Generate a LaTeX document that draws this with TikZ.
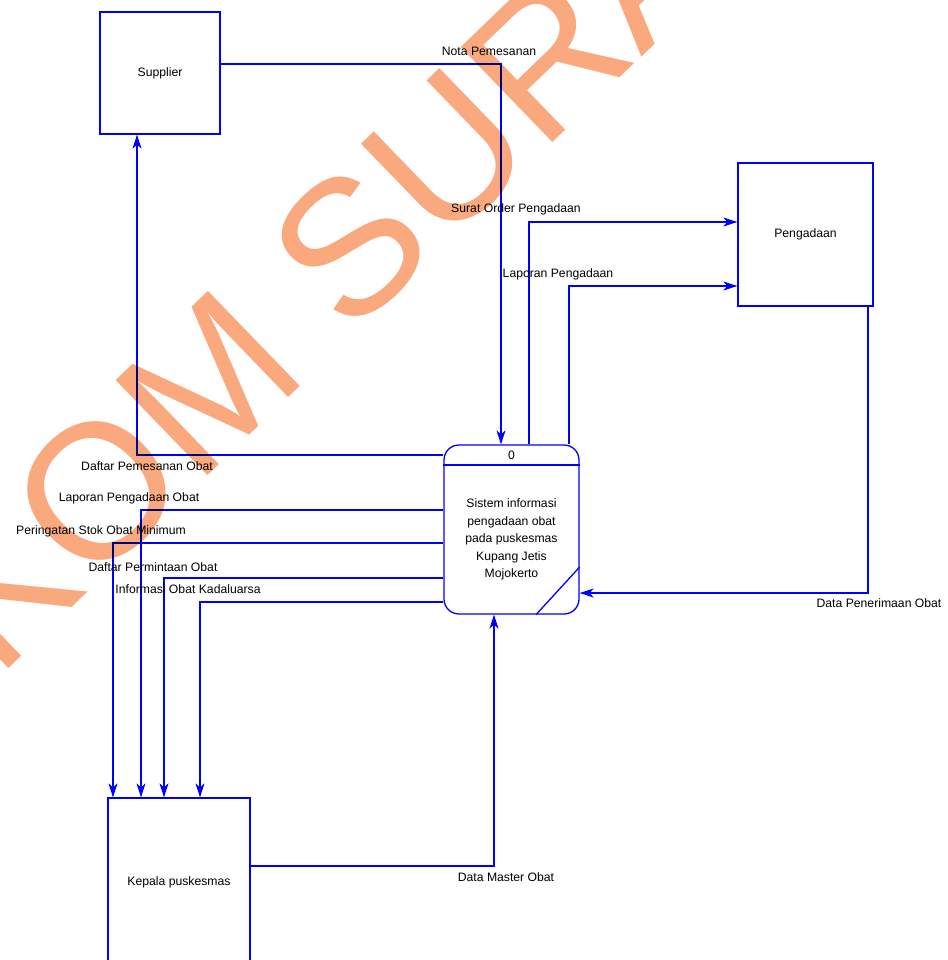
\documentclass[tikz,border=0pt]{standalone}
\usepackage{fontspec}
\setmainfont{Liberation Sans}
\usetikzlibrary{arrows.meta,calc}
\definecolor{dfdblue}{RGB}{0,0,255}
\definecolor{stamp}{RGB}{250,168,126}

\begin{document}
\begin{tikzpicture}[x=1pt,y=-1pt,
  every node/.style={font=\fontsize{12.2}{17.5}\selectfont, text=black, inner sep=0pt},
  entity/.style={draw=dfdblue, line width=1.3pt},
  process/.style={draw=dfdblue, line width=1.3pt, rounded corners=15pt},
  flow/.style={draw=dfdblue, line width=1.3pt,
    -{Stealth[length=14pt,width=9pt,inset=4pt]}},
  flowlabel/.style={anchor=center}
]
\useasboundingbox (0,0) rectangle (947,960);
\fill[white] (0,0) rectangle (947,960);
\clip (0,0) rectangle (947,960);

% external entities
\node[entity, minimum width=120pt, minimum height=122pt] (sup) at (160,73) {Supplier};
\node[entity, minimum width=135pt, minimum height=143pt] (peng) at (805.5,234.5) {Pengadaan};
\node[entity, minimum width=142pt, minimum height=168pt] (kep) at (179,882) {Kepala puskesmas};

% process 0
\node[process, minimum width=135pt, minimum height=169pt] (proc) at (511.5,529.5) {};
\draw[dfdblue, line width=1.3pt] (proc.west |- 0,465) -- (proc.east |- 0,465);
\draw[dfdblue, line width=1.3pt] (proc.south -| 536,0) -- (proc.east |- 0,567);
\node (pid) at (511.5,455) {0};
\node[align=center] (ptext) at (511.5,539.5)
  {Sistem informasi\\pengadaan obat\\pada puskesmas\\Kupang Jetis\\Mojokerto};

% data flows
\draw[flow] (sup.east |- 0,64) -| (proc.north -| 501,0);
\draw[flow] (proc.west |- 0,455) -| (sup.south -| 137,0);
\draw[flow] (proc.north -| 529,0) |- (peng.west |- 0,222);
\draw[flow] (proc.north -| 569,0) |- (peng.west |- 0,286);
\draw[flow] (peng.south -| 868,0) |- (proc.east |- 0,593);
\draw[flow] (kep.east |- 0,866) -| (proc.south -| 494,0);
\draw[flow] (proc.west |- 0,510) -| (kep.north -| 141,0);
\draw[flow] (proc.west |- 0,543) -| (kep.north -| 113,0);
\draw[flow] (proc.west |- 0,578) -| (kep.north -| 164,0);
\draw[flow] (proc.west |- 0,602) -| (kep.north -| 200,0);

% flow labels
\node[flowlabel] (l1) at (489,51) {Nota Pemesanan};
\node[flowlabel] (l2) at (147,466) {Daftar Pemesanan Obat};
\node[flowlabel] (l3) at (516,209) {Surat Order Pengadaan};
\node[flowlabel] (l4) at (558,274) {Laporan Pengadaan};
\node[flowlabel] (l5) at (879,603) {Data Penerimaan Obat};
\node[flowlabel] (l6) at (506,877) {Data Master Obat};
\node[flowlabel] (l7) at (129,498) {Laporan Pengadaan Obat};
\node[flowlabel] (l8) at (101,531) {Peringatan Stok Obat Minimum};
\node[flowlabel] (l9) at (153,567) {Daftar Permintaan Obat};
\node[flowlabel] (l10) at (188,589) {Informasi Obat Kadaluarsa};

% watermark
\begin{scope}[blend mode=multiply]
\node[anchor=base west, rotate=44, text=stamp,
  font=\fontsize{192}{192}\selectfont] (wm) at (-218,887) {STIKOM SURABAYA};
\end{scope}
\end{tikzpicture}
\end{document}
